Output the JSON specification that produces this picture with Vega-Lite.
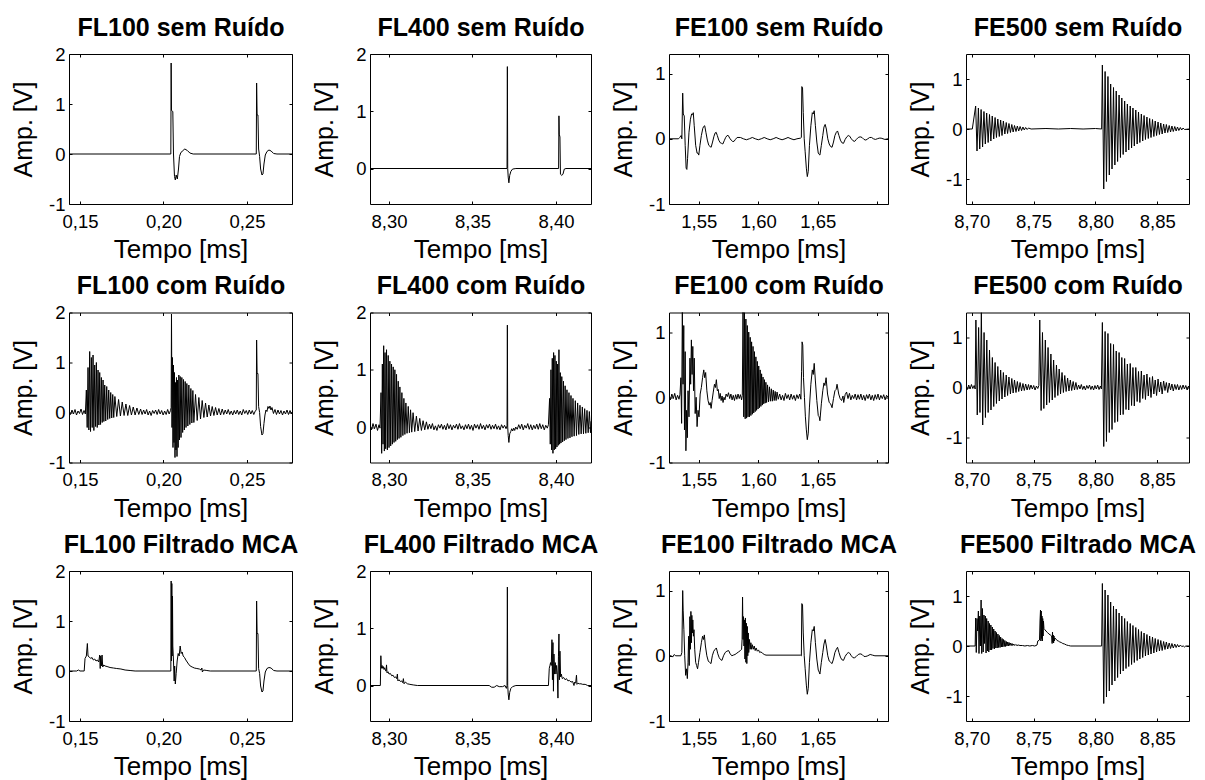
{
"$schema":"https://vega.github.io/schema/vega-lite/v6.json",
"background":"white",
"padding":{"left":10,"top":14,"right":0,"bottom":0},
"config":{
"font":"Liberation Sans",
"view":{"stroke":"black","strokeWidth":1},
"axis":{"grid":false,"domain":false,"ticks":true,"tickColor":"black","tickSize":-3,"tickWidth":1,"labelFont":"Liberation Sans","labelFontSize":18.5,"labelColor":"black","labelPadding":11,"titleFont":"Liberation Sans","titleFontWeight":"normal","titleColor":"black"},
"axisX":{"titlePadding":6,"titleFontSize":26},
"axisY":{"titleX":-46,"titleBaseline":"middle","labelPadding":7,"titleFontSize":25},
"line":{"color":"black","strokeWidth":1}
},
"datasets":{
"p1":[{"t":0.1434,"v":0},{"t":0.2044,"v":0},{"t":0.2046,"v":1.82},{"t":0.2048,"v":0.87},{"t":0.2056,"v":0.85},{"t":0.206,"v":0},{"t":0.2066,"v":-0.45},{"t":0.2071,"v":-0.52},{"t":0.2076,"v":-0.42},{"t":0.2083,"v":-0.5},{"t":0.209,"v":-0.3},{"t":0.2096,"v":-0.05},{"t":0.2103,"v":0.02},{"t":0.2113,"v":0.06},{"t":0.2128,"v":0.1},{"t":0.2143,"v":0.07},{"t":0.2158,"v":0.02},{"t":0.2178,"v":0},{"t":0.2556,"v":0},{"t":0.2558,"v":1.42},{"t":0.2561,"v":0.78},{"t":0.2566,"v":0.78},{"t":0.257,"v":0.1},{"t":0.2576,"v":-0.05},{"t":0.2582,"v":-0.3},{"t":0.259,"v":-0.42},{"t":0.2596,"v":-0.4},{"t":0.2602,"v":-0.2},{"t":0.261,"v":-0.02},{"t":0.262,"v":0.05},{"t":0.2632,"v":0.08},{"t":0.2645,"v":0.06},{"t":0.266,"v":0.01},{"t":0.268,"v":0},{"t":0.277,"v":0}],
"p2":[{"t":8.2886,"v":0},{"t":8.3707,"v":0},{"t":8.3709,"v":1.78},{"t":8.3711,"v":0},{"t":8.3714,"v":-0.15},{"t":8.3718,"v":-0.25},{"t":8.3723,"v":-0.12},{"t":8.373,"v":-0.05},{"t":8.374,"v":-0.01},{"t":8.376,"v":0},{"t":8.4016,"v":0},{"t":8.4018,"v":0.92},{"t":8.402,"v":0.6},{"t":8.4024,"v":0.55},{"t":8.4027,"v":-0.1},{"t":8.4035,"v":-0.12},{"t":8.4042,"v":-0.1},{"t":8.405,"v":-0.01},{"t":8.406,"v":0},{"t":8.421,"v":0}],
"p3":[{"t":1.525,"v":0},{"t":1.533,"v":0},{"t":1.534,"v":0.02},{"t":1.5352,"v":0.05},{"t":1.5358,"v":0},{"t":1.5365,"v":0.7},{"t":1.537,"v":0.38},{"t":1.5378,"v":0.35},{"t":1.5386,"v":-0.1},{"t":1.5394,"v":-0.45},{"t":1.54,"v":-0.47},{"t":1.5406,"v":-0.3},{"t":1.5418,"v":0.1},{"t":1.543,"v":0.3},{"t":1.544,"v":0.38},{"t":1.5448,"v":0.37},{"t":1.5454,"v":0.4},{"t":1.5462,"v":0.2},{"t":1.5474,"v":-0.1},{"t":1.5486,"v":-0.22},{"t":1.5494,"v":-0.22},{"t":1.55,"v":-0.25},{"t":1.551,"v":-0.1},{"t":1.5522,"v":0.05},{"t":1.5534,"v":0.16},{"t":1.5542,"v":0.19},{"t":1.555,"v":0.2},{"t":1.556,"v":0.1},{"t":1.5572,"v":-0.02},{"t":1.5584,"v":-0.1},{"t":1.5596,"v":-0.12},{"t":1.5604,"v":-0.13},{"t":1.5616,"v":-0.05},{"t":1.5628,"v":0.04},{"t":1.5638,"v":0.09},{"t":1.5646,"v":0.1},{"t":1.5656,"v":0.05},{"t":1.5668,"v":-0.02},{"t":1.568,"v":-0.06},{"t":1.5692,"v":-0.07},{"t":1.5702,"v":-0.08},{"t":1.5714,"v":-0.03},{"t":1.5726,"v":0.02},{"t":1.5738,"v":0.05},{"t":1.5748,"v":0.05},{"t":1.576,"v":0.01},{"t":1.5772,"v":-0.02},{"t":1.5784,"v":-0.04},{"t":1.5796,"v":-0.04},{"t":1.5808,"v":-0.01},{"t":1.5822,"v":0.02},{"t":1.585,"v":0.02},{"t":1.5875,"v":0},{"t":1.59,"v":-0.015},{"t":1.5925,"v":0},{"t":1.595,"v":0.02},{"t":1.5975,"v":0},{"t":1.6,"v":-0.015},{"t":1.6025,"v":0},{"t":1.605,"v":0.02},{"t":1.6075,"v":0},{"t":1.61,"v":-0.015},{"t":1.6125,"v":0},{"t":1.615,"v":0.02},{"t":1.6175,"v":0},{"t":1.62,"v":-0.015},{"t":1.6225,"v":0},{"t":1.625,"v":0.02},{"t":1.6275,"v":0},{"t":1.63,"v":-0.015},{"t":1.6325,"v":0},{"t":1.6355,"v":0.01},{"t":1.6362,"v":0.02},{"t":1.6366,"v":0.8},{"t":1.6372,"v":0.78},{"t":1.6378,"v":0.4},{"t":1.6386,"v":0},{"t":1.6394,"v":-0.2},{"t":1.6404,"v":-0.45},{"t":1.6412,"v":-0.58},{"t":1.642,"v":-0.5},{"t":1.643,"v":-0.1},{"t":1.6442,"v":0.2},{"t":1.6454,"v":0.4},{"t":1.6462,"v":0.38},{"t":1.647,"v":0.43},{"t":1.648,"v":0.2},{"t":1.6492,"v":-0.05},{"t":1.6504,"v":-0.22},{"t":1.6512,"v":-0.24},{"t":1.6518,"v":-0.25},{"t":1.653,"v":-0.1},{"t":1.6542,"v":0.05},{"t":1.6552,"v":0.18},{"t":1.6562,"v":0.22},{"t":1.6572,"v":0.15},{"t":1.6584,"v":0},{"t":1.6596,"v":-0.08},{"t":1.6608,"v":-0.12},{"t":1.662,"v":-0.13},{"t":1.6632,"v":-0.05},{"t":1.6644,"v":0.05},{"t":1.6656,"v":0.1},{"t":1.6666,"v":0.12},{"t":1.6678,"v":0.05},{"t":1.669,"v":-0.02},{"t":1.6702,"v":-0.06},{"t":1.6716,"v":-0.07},{"t":1.673,"v":-0.01},{"t":1.6744,"v":0.03},{"t":1.6756,"v":0.05},{"t":1.6768,"v":0.04},{"t":1.6782,"v":0},{"t":1.6796,"v":-0.03},{"t":1.681,"v":-0.04},{"t":1.6824,"v":-0.01},{"t":1.684,"v":0.02},{"t":1.6856,"v":0.03},{"t":1.6872,"v":0.02},{"t":1.6888,"v":-0.01},{"t":1.6904,"v":-0.02},{"t":1.692,"v":0},{"t":1.6936,"v":0.02},{"t":1.6952,"v":0.02},{"t":1.6968,"v":0},{"t":1.6984,"v":-0.01},{"t":1.7,"v":0},{"t":1.7016,"v":0.01},{"t":1.7032,"v":0.01},{"t":1.7048,"v":0},{"t":1.7064,"v":-0.01},{"t":1.709,"v":0}],
"p4":[{"t":8.6954,"v":0},{"t":8.7005,"v":0},{"t":8.7032,"v":0.46},{"t":8.7043,"v":-0.44},{"t":8.7054,"v":0.42},{"t":8.7065,"v":-0.4},{"t":8.7076,"v":0.39},{"t":8.7088,"v":-0.36},{"t":8.7099,"v":0.35},{"t":8.711,"v":-0.3},{"t":8.7121,"v":0.32},{"t":8.7133,"v":-0.27},{"t":8.7144,"v":0.29},{"t":8.7155,"v":-0.24},{"t":8.7166,"v":0.26},{"t":8.7178,"v":-0.2},{"t":8.7189,"v":0.23},{"t":8.72,"v":-0.17},{"t":8.7211,"v":0.2},{"t":8.7223,"v":-0.15},{"t":8.7234,"v":0.18},{"t":8.7245,"v":-0.13},{"t":8.7256,"v":0.16},{"t":8.7268,"v":-0.1},{"t":8.7279,"v":0.13},{"t":8.729,"v":-0.09},{"t":8.7301,"v":0.11},{"t":8.7313,"v":-0.07},{"t":8.7324,"v":0.09},{"t":8.7335,"v":-0.06},{"t":8.7346,"v":0.07},{"t":8.7358,"v":-0.05},{"t":8.7369,"v":0.06},{"t":8.738,"v":-0.04},{"t":8.7391,"v":0.05},{"t":8.7403,"v":-0.03},{"t":8.7414,"v":0.04},{"t":8.7425,"v":-0.02},{"t":8.7436,"v":0.03},{"t":8.7448,"v":-0.01},{"t":8.7459,"v":0.02},{"t":8.748,"v":0},{"t":8.76,"v":0.01},{"t":8.77,"v":0},{"t":8.78,"v":0.01},{"t":8.79,"v":0},{"t":8.8,"v":0.01},{"t":8.805,"v":0},{"t":8.8056,"v":1.28},{"t":8.8067,"v":-1.2},{"t":8.8078,"v":1.15},{"t":8.8089,"v":-1.05},{"t":8.8101,"v":1.05},{"t":8.8112,"v":-0.92},{"t":8.8123,"v":0.9},{"t":8.8134,"v":-0.8},{"t":8.8146,"v":0.83},{"t":8.8157,"v":-0.72},{"t":8.8168,"v":0.76},{"t":8.8179,"v":-0.65},{"t":8.8191,"v":0.68},{"t":8.8202,"v":-0.57},{"t":8.8213,"v":0.62},{"t":8.8224,"v":-0.51},{"t":8.8236,"v":0.56},{"t":8.8247,"v":-0.46},{"t":8.8258,"v":0.5},{"t":8.8269,"v":-0.42},{"t":8.8281,"v":0.46},{"t":8.8292,"v":-0.38},{"t":8.8303,"v":0.42},{"t":8.8314,"v":-0.34},{"t":8.8326,"v":0.38},{"t":8.8337,"v":-0.3},{"t":8.8348,"v":0.34},{"t":8.8359,"v":-0.27},{"t":8.8371,"v":0.3},{"t":8.8382,"v":-0.24},{"t":8.8393,"v":0.27},{"t":8.8404,"v":-0.21},{"t":8.8416,"v":0.24},{"t":8.8427,"v":-0.19},{"t":8.8438,"v":0.21},{"t":8.8449,"v":-0.17},{"t":8.8461,"v":0.19},{"t":8.8472,"v":-0.15},{"t":8.8483,"v":0.16},{"t":8.8494,"v":-0.13},{"t":8.8506,"v":0.14},{"t":8.8517,"v":-0.11},{"t":8.8528,"v":0.12},{"t":8.8539,"v":-0.1},{"t":8.8551,"v":0.1},{"t":8.8562,"v":-0.08},{"t":8.8573,"v":0.09},{"t":8.8584,"v":-0.07},{"t":8.8596,"v":0.07},{"t":8.8607,"v":-0.06},{"t":8.8618,"v":0.06},{"t":8.8629,"v":-0.05},{"t":8.8641,"v":0.05},{"t":8.8652,"v":-0.04},{"t":8.8663,"v":0.04},{"t":8.8674,"v":-0.03},{"t":8.8686,"v":0.03},{"t":8.8697,"v":-0.02},{"t":8.8708,"v":0.02},{"t":8.872,"v":-0.01},{"t":8.8756,"v":0}],
"p5":[{"t":0.1434,"v":0.02},{"t":0.1443,"v":-0.04},{"t":0.1452,"v":0.05},{"t":0.1461,"v":-0.03},{"t":0.147,"v":0.06},{"t":0.1479,"v":-0.05},{"t":0.1488,"v":0.03},{"t":0.1497,"v":-0.02},{"t":0.1506,"v":0.07},{"t":0.1515,"v":-0.04},{"t":0.1524,"v":0.04},{"t":0.1532,"v":-0.03},{"t":0.1538,"v":0.45},{"t":0.1543,"v":-0.3},{"t":0.1548,"v":0.9},{"t":0.1553,"v":-0.35},{"t":0.1558,"v":1.22},{"t":0.1563,"v":-0.38},{"t":0.1568,"v":1.1},{"t":0.1573,"v":-0.3},{"t":0.1578,"v":1.15},{"t":0.1583,"v":-0.36},{"t":0.1588,"v":0.95},{"t":0.1593,"v":-0.28},{"t":0.1598,"v":1},{"t":0.1603,"v":-0.3},{"t":0.1608,"v":0.85},{"t":0.1613,"v":-0.25},{"t":0.1618,"v":0.8},{"t":0.1623,"v":-0.24},{"t":0.1628,"v":0.7},{"t":0.1633,"v":-0.2},{"t":0.1638,"v":0.65},{"t":0.1643,"v":-0.18},{"t":0.1648,"v":0.55},{"t":0.1654,"v":-0.17},{"t":0.166,"v":0.52},{"t":0.1666,"v":-0.14},{"t":0.1672,"v":0.45},{"t":0.1678,"v":-0.12},{"t":0.1684,"v":0.4},{"t":0.169,"v":-0.11},{"t":0.1696,"v":0.36},{"t":0.1702,"v":-0.1},{"t":0.1709,"v":0.32},{"t":0.172,"v":-0.08},{"t":0.1731,"v":0.26},{"t":0.1742,"v":-0.07},{"t":0.1753,"v":0.21},{"t":0.1764,"v":-0.06},{"t":0.1775,"v":0.17},{"t":0.1786,"v":-0.06},{"t":0.1797,"v":0.14},{"t":0.1808,"v":-0.05},{"t":0.1819,"v":0.11},{"t":0.183,"v":-0.05},{"t":0.1841,"v":0.09},{"t":0.1852,"v":-0.04},{"t":0.1863,"v":0.07},{"t":0.1872,"v":-0.04},{"t":0.1881,"v":0.05},{"t":0.189,"v":-0.03},{"t":0.1899,"v":0.06},{"t":0.1908,"v":-0.05},{"t":0.1917,"v":0.03},{"t":0.1926,"v":-0.06},{"t":0.1935,"v":0.04},{"t":0.1944,"v":-0.02},{"t":0.1953,"v":0.05},{"t":0.1962,"v":-0.04},{"t":0.1971,"v":0.06},{"t":0.198,"v":-0.03},{"t":0.1989,"v":0.04},{"t":0.1998,"v":-0.05},{"t":0.2007,"v":0.03},{"t":0.2016,"v":-0.04},{"t":0.2025,"v":0.06},{"t":0.2034,"v":-0.03},{"t":0.2042,"v":0.04},{"t":0.2046,"v":0.1},{"t":0.2048,"v":1.97},{"t":0.2051,"v":-0.3},{"t":0.2054,"v":1.1},{"t":0.2057,"v":-0.7},{"t":0.206,"v":0.95},{"t":0.2063,"v":-0.6},{"t":0.2066,"v":0.8},{"t":0.2069,"v":-0.9},{"t":0.2072,"v":0.6},{"t":0.2075,"v":-0.75},{"t":0.2078,"v":0.7},{"t":0.2081,"v":-0.88},{"t":0.2084,"v":0.65},{"t":0.2088,"v":-0.7},{"t":0.2092,"v":0.75},{"t":0.2096,"v":-0.55},{"t":0.21,"v":0.72},{"t":0.2105,"v":-0.5},{"t":0.211,"v":0.7},{"t":0.2115,"v":-0.4},{"t":0.212,"v":0.66},{"t":0.2125,"v":-0.35},{"t":0.213,"v":0.62},{"t":0.2135,"v":-0.3},{"t":0.214,"v":0.58},{"t":0.2146,"v":-0.27},{"t":0.2152,"v":0.55},{"t":0.2158,"v":-0.24},{"t":0.2164,"v":0.48},{"t":0.217,"v":-0.21},{"t":0.2176,"v":0.44},{"t":0.2182,"v":-0.2},{"t":0.2192,"v":0.36},{"t":0.2202,"v":-0.16},{"t":0.2212,"v":0.3},{"t":0.2222,"v":-0.13},{"t":0.2232,"v":0.24},{"t":0.2242,"v":-0.1},{"t":0.2252,"v":0.19},{"t":0.2262,"v":-0.09},{"t":0.2272,"v":0.15},{"t":0.2282,"v":-0.07},{"t":0.2292,"v":0.12},{"t":0.2302,"v":-0.06},{"t":0.2312,"v":0.1},{"t":0.2322,"v":-0.05},{"t":0.2332,"v":0.08},{"t":0.2342,"v":-0.05},{"t":0.2352,"v":0.07},{"t":0.2361,"v":-0.04},{"t":0.237,"v":0.05},{"t":0.2379,"v":-0.03},{"t":0.2388,"v":0.06},{"t":0.2397,"v":-0.04},{"t":0.2406,"v":0.03},{"t":0.2415,"v":-0.05},{"t":0.2424,"v":0.04},{"t":0.2433,"v":-0.03},{"t":0.2442,"v":0.05},{"t":0.2451,"v":-0.04},{"t":0.246,"v":0.03},{"t":0.2469,"v":-0.05},{"t":0.2478,"v":0.06},{"t":0.2487,"v":-0.02},{"t":0.2496,"v":0.04},{"t":0.2505,"v":-0.04},{"t":0.2514,"v":0.05},{"t":0.2523,"v":-0.03},{"t":0.2532,"v":0.04},{"t":0.2541,"v":-0.04},{"t":0.255,"v":0.03},{"t":0.2556,"v":0.05},{"t":0.2558,"v":1.45},{"t":0.2561,"v":0.78},{"t":0.2566,"v":0.78},{"t":0.257,"v":0.12},{"t":0.2576,"v":0},{"t":0.2582,"v":-0.28},{"t":0.259,"v":-0.45},{"t":0.2596,"v":-0.42},{"t":0.2602,"v":-0.22},{"t":0.2608,"v":-0.05},{"t":0.2614,"v":0.05},{"t":0.262,"v":0.02},{"t":0.2626,"v":0.12},{"t":0.2632,"v":0.08},{"t":0.2638,"v":0.13},{"t":0.2644,"v":0.05},{"t":0.265,"v":0.1},{"t":0.2659,"v":-0.02},{"t":0.2668,"v":0.06},{"t":0.2677,"v":-0.04},{"t":0.2686,"v":0.05},{"t":0.2695,"v":-0.03},{"t":0.2704,"v":0.04},{"t":0.2713,"v":-0.05},{"t":0.2722,"v":0.03},{"t":0.2731,"v":-0.03},{"t":0.274,"v":0.05},{"t":0.2749,"v":-0.04},{"t":0.2758,"v":0.04},{"t":0.2767,"v":-0.03},{"t":0.277,"v":0.01}],
"p6":[{"t":8.2886,"v":0.03},{"t":8.2895,"v":-0.05},{"t":8.2904,"v":0.06},{"t":8.2913,"v":-0.03},{"t":8.2922,"v":0.05},{"t":8.2931,"v":-0.06},{"t":8.294,"v":0.04},{"t":8.2946,"v":-0.02},{"t":8.2952,"v":0.6},{"t":8.2956,"v":-0.46},{"t":8.296,"v":1.1},{"t":8.2964,"v":-0.3},{"t":8.2968,"v":1.42},{"t":8.2972,"v":-0.42},{"t":8.2976,"v":1.3},{"t":8.298,"v":-0.38},{"t":8.2985,"v":1.35},{"t":8.299,"v":-0.4},{"t":8.2995,"v":1.25},{"t":8.3,"v":-0.36},{"t":8.3005,"v":1.15},{"t":8.301,"v":-0.33},{"t":8.3015,"v":1.1},{"t":8.302,"v":-0.3},{"t":8.3025,"v":1.05},{"t":8.303,"v":-0.27},{"t":8.3035,"v":1},{"t":8.304,"v":-0.25},{"t":8.3045,"v":0.92},{"t":8.305,"v":-0.22},{"t":8.3055,"v":0.8},{"t":8.306,"v":-0.2},{"t":8.3065,"v":0.7},{"t":8.3071,"v":-0.18},{"t":8.3077,"v":0.6},{"t":8.3083,"v":-0.15},{"t":8.3089,"v":0.5},{"t":8.3095,"v":-0.13},{"t":8.3101,"v":0.42},{"t":8.3108,"v":-0.11},{"t":8.3115,"v":0.36},{"t":8.3122,"v":-0.1},{"t":8.3129,"v":0.3},{"t":8.3136,"v":-0.09},{"t":8.3144,"v":0.25},{"t":8.3154,"v":-0.08},{"t":8.3164,"v":0.19},{"t":8.3174,"v":-0.07},{"t":8.3184,"v":0.15},{"t":8.3194,"v":-0.06},{"t":8.3204,"v":0.11},{"t":8.3214,"v":-0.05},{"t":8.3224,"v":0.09},{"t":8.3233,"v":-0.04},{"t":8.3242,"v":0.05},{"t":8.3251,"v":-0.03},{"t":8.326,"v":0.06},{"t":8.3269,"v":-0.05},{"t":8.3278,"v":0.02},{"t":8.3287,"v":-0.06},{"t":8.3296,"v":0.04},{"t":8.3305,"v":-0.02},{"t":8.3314,"v":0.05},{"t":8.3323,"v":-0.04},{"t":8.3332,"v":0.03},{"t":8.3341,"v":-0.05},{"t":8.335,"v":0.06},{"t":8.3359,"v":-0.03},{"t":8.3368,"v":0.04},{"t":8.3377,"v":-0.05},{"t":8.3386,"v":0.03},{"t":8.3395,"v":-0.02},{"t":8.3404,"v":0.05},{"t":8.3413,"v":-0.04},{"t":8.3422,"v":0.06},{"t":8.3431,"v":-0.03},{"t":8.344,"v":0.02},{"t":8.3449,"v":-0.05},{"t":8.3458,"v":0.04},{"t":8.3467,"v":-0.03},{"t":8.3476,"v":0.05},{"t":8.3485,"v":-0.04},{"t":8.3494,"v":0.03},{"t":8.3503,"v":-0.06},{"t":8.3512,"v":0.05},{"t":8.3521,"v":-0.02},{"t":8.353,"v":0.04},{"t":8.3539,"v":-0.04},{"t":8.3548,"v":0.06},{"t":8.3557,"v":-0.03},{"t":8.3566,"v":0.03},{"t":8.3575,"v":-0.05},{"t":8.3584,"v":0.04},{"t":8.3593,"v":-0.02},{"t":8.3602,"v":0.05},{"t":8.3611,"v":-0.04},{"t":8.362,"v":0.03},{"t":8.3629,"v":-0.03},{"t":8.3638,"v":0.05},{"t":8.3647,"v":-0.04},{"t":8.3656,"v":0.02},{"t":8.3665,"v":-0.05},{"t":8.3674,"v":0.04},{"t":8.3683,"v":-0.02},{"t":8.3692,"v":0.03},{"t":8.3701,"v":-0.03},{"t":8.3707,"v":0.02},{"t":8.3709,"v":1.78},{"t":8.3711,"v":0},{"t":8.3714,"v":-0.15},{"t":8.3718,"v":-0.27},{"t":8.3723,"v":-0.12},{"t":8.3729,"v":-0.08},{"t":8.3735,"v":-0.03},{"t":8.3741,"v":-0.07},{"t":8.3747,"v":-0.02},{"t":8.3753,"v":-0.06},{"t":8.3759,"v":0},{"t":8.3768,"v":-0.04},{"t":8.3777,"v":0.04},{"t":8.3786,"v":-0.03},{"t":8.3795,"v":0.05},{"t":8.3804,"v":-0.05},{"t":8.3813,"v":0.03},{"t":8.3822,"v":-0.02},{"t":8.3831,"v":0.06},{"t":8.384,"v":-0.04},{"t":8.3849,"v":0.04},{"t":8.3858,"v":-0.05},{"t":8.3867,"v":0.03},{"t":8.3876,"v":-0.03},{"t":8.3885,"v":0.05},{"t":8.3894,"v":-0.04},{"t":8.3903,"v":0.06},{"t":8.3912,"v":-0.03},{"t":8.3921,"v":0.04},{"t":8.393,"v":-0.05},{"t":8.3939,"v":0.03},{"t":8.3948,"v":-0.02},{"t":8.3955,"v":0.04},{"t":8.3962,"v":0.5},{"t":8.3966,"v":-0.3},{"t":8.397,"v":1},{"t":8.3974,"v":-0.4},{"t":8.3978,"v":1.2},{"t":8.3982,"v":-0.46},{"t":8.3986,"v":1.3},{"t":8.399,"v":-0.4},{"t":8.3994,"v":1.25},{"t":8.3998,"v":-0.38},{"t":8.4002,"v":1.15},{"t":8.4006,"v":-0.35},{"t":8.401,"v":1.1},{"t":8.4014,"v":-0.32},{"t":8.4018,"v":1.35},{"t":8.4022,"v":-0.3},{"t":8.4026,"v":0.95},{"t":8.403,"v":-0.28},{"t":8.4035,"v":0.88},{"t":8.404,"v":-0.26},{"t":8.4045,"v":0.8},{"t":8.405,"v":-0.24},{"t":8.4055,"v":0.72},{"t":8.406,"v":-0.22},{"t":8.4066,"v":0.65},{"t":8.4072,"v":-0.2},{"t":8.4078,"v":0.6},{"t":8.4084,"v":-0.19},{"t":8.409,"v":0.55},{"t":8.4096,"v":-0.17},{"t":8.4102,"v":0.5},{"t":8.4109,"v":-0.16},{"t":8.4116,"v":0.46},{"t":8.4123,"v":-0.15},{"t":8.413,"v":0.42},{"t":8.4137,"v":-0.13},{"t":8.4144,"v":0.38},{"t":8.4151,"v":-0.12},{"t":8.4158,"v":0.35},{"t":8.4165,"v":-0.12},{"t":8.4172,"v":0.32},{"t":8.4179,"v":-0.11},{"t":8.4186,"v":0.29},{"t":8.4193,"v":-0.1},{"t":8.42,"v":0.27},{"t":8.4207,"v":-0.1},{"t":8.421,"v":0.1}],
"p7":[{"t":1.525,"v":0.02},{"t":1.5262,"v":-0.04},{"t":1.5274,"v":0.05},{"t":1.5286,"v":-0.02},{"t":1.5298,"v":0.06},{"t":1.531,"v":-0.04},{"t":1.5322,"v":0.03},{"t":1.5334,"v":-0.03},{"t":1.5342,"v":0.04},{"t":1.535,"v":0.3},{"t":1.5356,"v":-0.4},{"t":1.5362,"v":1.35},{"t":1.5368,"v":0.2},{"t":1.5374,"v":1.1},{"t":1.538,"v":-0.5},{"t":1.5386,"v":0.7},{"t":1.5392,"v":-0.82},{"t":1.5398,"v":-0.2},{"t":1.5404,"v":-0.62},{"t":1.541,"v":0.1},{"t":1.5418,"v":-0.3},{"t":1.5426,"v":0.6},{"t":1.5432,"v":0.2},{"t":1.5438,"v":0.88},{"t":1.5444,"v":0.35},{"t":1.545,"v":0.78},{"t":1.5456,"v":0.1},{"t":1.5462,"v":0.6},{"t":1.547,"v":-0.25},{"t":1.5478,"v":0},{"t":1.5486,"v":-0.45},{"t":1.5494,"v":-0.2},{"t":1.5502,"v":-0.3},{"t":1.5512,"v":0.05},{"t":1.5522,"v":0.15},{"t":1.5532,"v":0.3},{"t":1.5542,"v":0.42},{"t":1.555,"v":0.3},{"t":1.5558,"v":0.38},{"t":1.5568,"v":0.1},{"t":1.5578,"v":-0.05},{"t":1.5588,"v":-0.12},{"t":1.5596,"v":-0.08},{"t":1.5604,"v":-0.17},{"t":1.5612,"v":-0.05},{"t":1.5622,"v":0.08},{"t":1.5632,"v":0.2},{"t":1.564,"v":0.15},{"t":1.5648,"v":0.27},{"t":1.5656,"v":0.1},{"t":1.5664,"v":0.12},{"t":1.5672,"v":-0.02},{"t":1.568,"v":0.06},{"t":1.5688,"v":-0.05},{"t":1.5696,"v":0.02},{"t":1.5704,"v":-0.08},{"t":1.5712,"v":0},{"t":1.572,"v":-0.04},{"t":1.573,"v":0.05},{"t":1.574,"v":0.01},{"t":1.575,"v":0.07},{"t":1.576,"v":-0.02},{"t":1.577,"v":0.05},{"t":1.578,"v":-0.04},{"t":1.579,"v":0.03},{"t":1.58,"v":-0.05},{"t":1.581,"v":0.04},{"t":1.582,"v":-0.03},{"t":1.583,"v":0.05},{"t":1.584,"v":-0.02},{"t":1.585,"v":0.04},{"t":1.586,"v":-0.04},{"t":1.5866,"v":0.03},{"t":1.5872,"v":1.35},{"t":1.5878,"v":-0.3},{"t":1.5884,"v":1.3},{"t":1.589,"v":-0.33},{"t":1.5896,"v":1.2},{"t":1.5902,"v":-0.32},{"t":1.5908,"v":1.1},{"t":1.5914,"v":-0.3},{"t":1.592,"v":1},{"t":1.5926,"v":-0.3},{"t":1.5932,"v":0.92},{"t":1.5938,"v":-0.28},{"t":1.5944,"v":0.85},{"t":1.595,"v":-0.26},{"t":1.5956,"v":0.78},{"t":1.5962,"v":-0.24},{"t":1.5968,"v":0.7},{"t":1.5974,"v":-0.22},{"t":1.598,"v":0.62},{"t":1.5986,"v":-0.2},{"t":1.5992,"v":0.55},{"t":1.5998,"v":-0.18},{"t":1.6004,"v":0.48},{"t":1.601,"v":-0.16},{"t":1.6016,"v":0.42},{"t":1.6022,"v":-0.14},{"t":1.6028,"v":0.36},{"t":1.6034,"v":-0.12},{"t":1.604,"v":0.31},{"t":1.6046,"v":-0.1},{"t":1.6052,"v":0.27},{"t":1.6058,"v":-0.09},{"t":1.6064,"v":0.23},{"t":1.607,"v":-0.08},{"t":1.6078,"v":0.19},{"t":1.6086,"v":-0.07},{"t":1.6094,"v":0.16},{"t":1.6102,"v":-0.06},{"t":1.611,"v":0.13},{"t":1.6118,"v":-0.06},{"t":1.6126,"v":0.11},{"t":1.6134,"v":-0.05},{"t":1.6142,"v":0.09},{"t":1.615,"v":-0.05},{"t":1.6158,"v":0.08},{"t":1.6168,"v":-0.03},{"t":1.618,"v":0.05},{"t":1.6192,"v":-0.04},{"t":1.6204,"v":0.03},{"t":1.6216,"v":-0.05},{"t":1.6228,"v":0.06},{"t":1.624,"v":-0.02},{"t":1.6252,"v":0.04},{"t":1.6264,"v":-0.04},{"t":1.6276,"v":0.05},{"t":1.6288,"v":-0.03},{"t":1.63,"v":0.03},{"t":1.6312,"v":-0.05},{"t":1.6324,"v":0.04},{"t":1.6336,"v":-0.02},{"t":1.6348,"v":0.05},{"t":1.6358,"v":-0.03},{"t":1.6364,"v":0.4},{"t":1.6368,"v":0.85},{"t":1.6374,"v":0.8},{"t":1.638,"v":0.3},{"t":1.6388,"v":0},{"t":1.6396,"v":-0.3},{"t":1.6404,"v":-0.5},{"t":1.6412,"v":-0.65},{"t":1.642,"v":-0.55},{"t":1.643,"v":-0.15},{"t":1.6442,"v":0.2},{"t":1.6454,"v":0.42},{"t":1.6462,"v":0.35},{"t":1.647,"v":0.52},{"t":1.648,"v":0.25},{"t":1.6492,"v":-0.05},{"t":1.6504,"v":-0.28},{"t":1.6512,"v":-0.3},{"t":1.6518,"v":-0.36},{"t":1.653,"v":-0.1},{"t":1.6542,"v":0.1},{"t":1.6552,"v":0.22},{"t":1.656,"v":0.18},{"t":1.657,"v":0.3},{"t":1.6582,"v":0.05},{"t":1.6596,"v":-0.08},{"t":1.6608,"v":-0.1},{"t":1.662,"v":-0.16},{"t":1.6632,"v":-0.02},{"t":1.6644,"v":0.1},{"t":1.6654,"v":0.12},{"t":1.6662,"v":0.2},{"t":1.6676,"v":0.05},{"t":1.6688,"v":-0.02},{"t":1.67,"v":-0.05},{"t":1.6712,"v":0.02},{"t":1.6718,"v":-0.08},{"t":1.673,"v":0.04},{"t":1.6742,"v":0.08},{"t":1.6754,"v":-0.02},{"t":1.6766,"v":0.06},{"t":1.6778,"v":-0.04},{"t":1.679,"v":0.03},{"t":1.6802,"v":-0.02},{"t":1.6814,"v":0.05},{"t":1.6826,"v":-0.04},{"t":1.6838,"v":0.04},{"t":1.685,"v":-0.03},{"t":1.6862,"v":0.05},{"t":1.6874,"v":-0.04},{"t":1.6886,"v":0.03},{"t":1.6898,"v":-0.05},{"t":1.691,"v":0.04},{"t":1.6922,"v":-0.02},{"t":1.6934,"v":0.05},{"t":1.6946,"v":-0.04},{"t":1.6958,"v":0.03},{"t":1.697,"v":-0.05},{"t":1.6982,"v":0.04},{"t":1.6994,"v":-0.03},{"t":1.7006,"v":0.05},{"t":1.7018,"v":-0.04},{"t":1.703,"v":0.03},{"t":1.7042,"v":-0.02},{"t":1.7054,"v":0.04},{"t":1.7066,"v":-0.04},{"t":1.7078,"v":0.03},{"t":1.709,"v":0}],
"p8":[{"t":8.6954,"v":0.02},{"t":8.6965,"v":-0.04},{"t":8.6976,"v":0.05},{"t":8.6987,"v":-0.03},{"t":8.6998,"v":0.06},{"t":8.7009,"v":-0.02},{"t":8.702,"v":0.04},{"t":8.7028,"v":-0.03},{"t":8.7034,"v":1.35},{"t":8.7045,"v":-0.55},{"t":8.7056,"v":1.2},{"t":8.7067,"v":-0.5},{"t":8.7078,"v":1.5},{"t":8.7089,"v":-0.75},{"t":8.71,"v":1.1},{"t":8.7111,"v":-0.6},{"t":8.7122,"v":0.95},{"t":8.7133,"v":-0.5},{"t":8.7144,"v":0.75},{"t":8.7156,"v":-0.45},{"t":8.7167,"v":0.6},{"t":8.7178,"v":-0.38},{"t":8.7189,"v":0.5},{"t":8.72,"v":-0.32},{"t":8.7211,"v":0.42},{"t":8.7223,"v":-0.27},{"t":8.7234,"v":0.35},{"t":8.7245,"v":-0.23},{"t":8.7256,"v":0.3},{"t":8.7268,"v":-0.19},{"t":8.7279,"v":0.25},{"t":8.729,"v":-0.16},{"t":8.7301,"v":0.21},{"t":8.7313,"v":-0.13},{"t":8.7324,"v":0.18},{"t":8.7335,"v":-0.11},{"t":8.7346,"v":0.15},{"t":8.7358,"v":-0.1},{"t":8.7369,"v":0.12},{"t":8.738,"v":-0.08},{"t":8.7391,"v":0.1},{"t":8.7403,"v":-0.07},{"t":8.7414,"v":0.08},{"t":8.7425,"v":-0.06},{"t":8.7436,"v":0.07},{"t":8.7448,"v":-0.05},{"t":8.7459,"v":0.06},{"t":8.7468,"v":-0.04},{"t":8.7479,"v":0.05},{"t":8.749,"v":-0.03},{"t":8.7501,"v":0.04},{"t":8.7512,"v":-0.05},{"t":8.7523,"v":0.03},{"t":8.7534,"v":-0.02},{"t":8.7543,"v":0.04},{"t":8.755,"v":1.35},{"t":8.7561,"v":-0.46},{"t":8.7572,"v":1.1},{"t":8.7583,"v":-0.42},{"t":8.7595,"v":0.95},{"t":8.7606,"v":-0.35},{"t":8.7617,"v":0.8},{"t":8.7628,"v":-0.3},{"t":8.764,"v":0.67},{"t":8.7651,"v":-0.25},{"t":8.7662,"v":0.55},{"t":8.7673,"v":-0.2},{"t":8.7685,"v":0.45},{"t":8.7696,"v":-0.16},{"t":8.7707,"v":0.37},{"t":8.7718,"v":-0.13},{"t":8.773,"v":0.3},{"t":8.7741,"v":-0.1},{"t":8.7752,"v":0.24},{"t":8.7763,"v":-0.08},{"t":8.7775,"v":0.19},{"t":8.7786,"v":-0.07},{"t":8.7797,"v":0.15},{"t":8.7808,"v":-0.06},{"t":8.782,"v":0.12},{"t":8.7831,"v":-0.05},{"t":8.7842,"v":0.1},{"t":8.7853,"v":-0.04},{"t":8.7864,"v":0.05},{"t":8.7875,"v":-0.03},{"t":8.7886,"v":0.06},{"t":8.7897,"v":-0.04},{"t":8.7908,"v":0.03},{"t":8.7919,"v":-0.05},{"t":8.793,"v":0.04},{"t":8.7941,"v":-0.02},{"t":8.7952,"v":0.05},{"t":8.7963,"v":-0.04},{"t":8.7974,"v":0.03},{"t":8.7985,"v":-0.05},{"t":8.7996,"v":0.04},{"t":8.8007,"v":-0.03},{"t":8.8018,"v":0.05},{"t":8.8029,"v":-0.04},{"t":8.804,"v":0.03},{"t":8.8048,"v":-0.03},{"t":8.8056,"v":1.3},{"t":8.8067,"v":-1.18},{"t":8.8078,"v":1.12},{"t":8.8089,"v":-1.08},{"t":8.8101,"v":1.08},{"t":8.8112,"v":-0.9},{"t":8.8123,"v":0.88},{"t":8.8134,"v":-0.84},{"t":8.8146,"v":0.86},{"t":8.8157,"v":-0.7},{"t":8.8168,"v":0.73},{"t":8.8179,"v":-0.68},{"t":8.8191,"v":0.7},{"t":8.8202,"v":-0.55},{"t":8.8213,"v":0.6},{"t":8.8224,"v":-0.54},{"t":8.8236,"v":0.58},{"t":8.8247,"v":-0.44},{"t":8.8258,"v":0.47},{"t":8.8269,"v":-0.45},{"t":8.8281,"v":0.48},{"t":8.8292,"v":-0.36},{"t":8.8303,"v":0.4},{"t":8.8314,"v":-0.37},{"t":8.8326,"v":0.4},{"t":8.8337,"v":-0.28},{"t":8.8348,"v":0.32},{"t":8.8359,"v":-0.3},{"t":8.8371,"v":0.33},{"t":8.8382,"v":-0.22},{"t":8.8393,"v":0.25},{"t":8.8404,"v":-0.24},{"t":8.8416,"v":0.27},{"t":8.8427,"v":-0.17},{"t":8.8438,"v":0.2},{"t":8.8449,"v":-0.2},{"t":8.8461,"v":0.22},{"t":8.8472,"v":-0.13},{"t":8.8483,"v":0.15},{"t":8.8494,"v":-0.16},{"t":8.8506,"v":0.17},{"t":8.8517,"v":-0.09},{"t":8.8528,"v":0.11},{"t":8.8539,"v":-0.13},{"t":8.8551,"v":0.13},{"t":8.8562,"v":-0.06},{"t":8.8573,"v":0.1},{"t":8.8584,"v":-0.1},{"t":8.8596,"v":0.09},{"t":8.8607,"v":-0.05},{"t":8.8618,"v":0.07},{"t":8.8629,"v":-0.07},{"t":8.8641,"v":0.06},{"t":8.8652,"v":-0.04},{"t":8.8663,"v":0.06},{"t":8.8674,"v":-0.05},{"t":8.8686,"v":0.04},{"t":8.8697,"v":-0.04},{"t":8.8708,"v":0.05},{"t":8.8719,"v":-0.03},{"t":8.873,"v":0.04},{"t":8.8741,"v":-0.05},{"t":8.8752,"v":0.03},{"t":8.8756,"v":0}],
"p9":[{"t":0.1434,"v":0},{"t":0.148,"v":0},{"t":0.149,"v":0.02},{"t":0.15,"v":0},{"t":0.1525,"v":0},{"t":0.153,"v":0.25},{"t":0.1538,"v":0.3},{"t":0.1544,"v":0.55},{"t":0.1548,"v":0.3},{"t":0.1556,"v":0.28},{"t":0.1564,"v":0.25},{"t":0.1572,"v":0.27},{"t":0.158,"v":0.22},{"t":0.1588,"v":0.24},{"t":0.1596,"v":0.2},{"t":0.1604,"v":0.22},{"t":0.1612,"v":0.18},{"t":0.1618,"v":0.32},{"t":0.1621,"v":0.05},{"t":0.1624,"v":0.3},{"t":0.1628,"v":0.1},{"t":0.1632,"v":0.32},{"t":0.1636,"v":0.08},{"t":0.1642,"v":0.12},{"t":0.165,"v":0.1},{"t":0.1662,"v":0.09},{"t":0.168,"v":0.07},{"t":0.17,"v":0.06},{"t":0.172,"v":0.05},{"t":0.1745,"v":0.04},{"t":0.177,"v":0.02},{"t":0.18,"v":0.01},{"t":0.183,"v":0},{"t":0.2044,"v":0},{"t":0.2046,"v":1.8},{"t":0.2048,"v":0.2},{"t":0.205,"v":1.75},{"t":0.2052,"v":0.3},{"t":0.2054,"v":1.5},{"t":0.2056,"v":0.5},{"t":0.206,"v":0.2},{"t":0.2064,"v":-0.2},{"t":0.2067,"v":0.1},{"t":0.2071,"v":-0.26},{"t":0.2076,"v":-0.05},{"t":0.2082,"v":0.2},{"t":0.2088,"v":0.35},{"t":0.2094,"v":0.3},{"t":0.21,"v":0.5},{"t":0.2106,"v":0.35},{"t":0.2112,"v":0.38},{"t":0.2118,"v":0.3},{"t":0.2126,"v":0.27},{"t":0.2134,"v":0.22},{"t":0.2142,"v":0.18},{"t":0.215,"v":0.14},{"t":0.216,"v":0.1},{"t":0.2172,"v":0.08},{"t":0.2185,"v":0.06},{"t":0.22,"v":0.05},{"t":0.2215,"v":0.04},{"t":0.2225,"v":0.02},{"t":0.223,"v":0.06},{"t":0.2233,"v":-0.02},{"t":0.224,"v":0.02},{"t":0.226,"v":0.01},{"t":0.228,"v":0},{"t":0.2556,"v":0},{"t":0.2558,"v":1.4},{"t":0.2561,"v":0.75},{"t":0.2566,"v":0.75},{"t":0.257,"v":0.05},{"t":0.2576,"v":-0.05},{"t":0.2582,"v":-0.3},{"t":0.259,"v":-0.42},{"t":0.2596,"v":-0.4},{"t":0.2602,"v":-0.2},{"t":0.261,"v":-0.02},{"t":0.262,"v":0.05},{"t":0.2632,"v":0.07},{"t":0.2645,"v":0.06},{"t":0.266,"v":0.01},{"t":0.268,"v":0},{"t":0.277,"v":0}],
"p10":[{"t":8.2886,"v":0},{"t":8.2948,"v":0},{"t":8.2951,"v":0.52},{"t":8.2954,"v":0.3},{"t":8.2958,"v":0.35},{"t":8.2962,"v":0.3},{"t":8.2966,"v":0.33},{"t":8.297,"v":0.28},{"t":8.2974,"v":0.31},{"t":8.2978,"v":0.27},{"t":8.2982,"v":0.25},{"t":8.2985,"v":0.36},{"t":8.2988,"v":0.22},{"t":8.2994,"v":0.24},{"t":8.3,"v":0.2},{"t":8.3008,"v":0.21},{"t":8.3016,"v":0.17},{"t":8.3024,"v":0.18},{"t":8.3032,"v":0.14},{"t":8.304,"v":0.15},{"t":8.3046,"v":0.12},{"t":8.305,"v":0.2},{"t":8.3053,"v":0.08},{"t":8.306,"v":0.1},{"t":8.3068,"v":0.07},{"t":8.3076,"v":0.08},{"t":8.3082,"v":0.05},{"t":8.3086,"v":0.12},{"t":8.309,"v":0.03},{"t":8.3098,"v":0.06},{"t":8.311,"v":0.03},{"t":8.3125,"v":0.02},{"t":8.3145,"v":0.01},{"t":8.317,"v":0},{"t":8.36,"v":0},{"t":8.3615,"v":-0.03},{"t":8.363,"v":-0.03},{"t":8.3645,"v":0},{"t":8.366,"v":-0.02},{"t":8.368,"v":-0.02},{"t":8.3695,"v":0},{"t":8.3703,"v":-0.05},{"t":8.3707,"v":0},{"t":8.3709,"v":1.72},{"t":8.3711,"v":0},{"t":8.3714,"v":-0.15},{"t":8.3718,"v":-0.25},{"t":8.3723,"v":-0.12},{"t":8.373,"v":-0.05},{"t":8.374,"v":-0.02},{"t":8.376,"v":0},{"t":8.3955,"v":0},{"t":8.396,"v":0.3},{"t":8.3964,"v":0.35},{"t":8.3968,"v":0.4},{"t":8.3972,"v":0.35},{"t":8.3976,"v":0.8},{"t":8.3979,"v":0.1},{"t":8.3982,"v":0.75},{"t":8.3985,"v":-0.1},{"t":8.3988,"v":0.55},{"t":8.3992,"v":0.2},{"t":8.3996,"v":0.4},{"t":8.4,"v":0.2},{"t":8.4004,"v":0.35},{"t":8.4008,"v":0.2},{"t":8.4012,"v":-0.22},{"t":8.4015,"v":0.5},{"t":8.4018,"v":0.9},{"t":8.4021,"v":0.1},{"t":8.4024,"v":0.6},{"t":8.4028,"v":0.15},{"t":8.4032,"v":0.2},{"t":8.4038,"v":0.12},{"t":8.4046,"v":0.14},{"t":8.4055,"v":0.1},{"t":8.4063,"v":0.12},{"t":8.4072,"v":0.08},{"t":8.408,"v":0.09},{"t":8.409,"v":0.06},{"t":8.41,"v":0.07},{"t":8.4108,"v":0},{"t":8.4112,"v":0.06},{"t":8.4118,"v":0.04},{"t":8.4123,"v":0.18},{"t":8.4126,"v":0.02},{"t":8.4132,"v":0.04},{"t":8.414,"v":0.03},{"t":8.415,"v":0.03},{"t":8.416,"v":0.02},{"t":8.4175,"v":0.02},{"t":8.419,"v":0},{"t":8.421,"v":0}],
"p11":[{"t":1.525,"v":0},{"t":1.527,"v":0},{"t":1.528,"v":-0.02},{"t":1.5295,"v":0.02},{"t":1.5305,"v":0},{"t":1.535,"v":0},{"t":1.5358,"v":0.05},{"t":1.5365,"v":1},{"t":1.5369,"v":0.7},{"t":1.5375,"v":0.4},{"t":1.5382,"v":0},{"t":1.539,"v":-0.3},{"t":1.5398,"v":-0.2},{"t":1.5404,"v":-0.35},{"t":1.541,"v":-0.1},{"t":1.5415,"v":0.3},{"t":1.542,"v":-0.15},{"t":1.5425,"v":0.6},{"t":1.543,"v":0.1},{"t":1.5434,"v":0.68},{"t":1.5438,"v":0.2},{"t":1.5442,"v":0.62},{"t":1.5446,"v":0.35},{"t":1.545,"v":0.55},{"t":1.5455,"v":0.3},{"t":1.546,"v":0.4},{"t":1.5466,"v":0.1},{"t":1.5474,"v":-0.1},{"t":1.5482,"v":-0.15},{"t":1.549,"v":-0.2},{"t":1.5498,"v":-0.1},{"t":1.551,"v":0.05},{"t":1.5522,"v":0.2},{"t":1.5532,"v":0.3},{"t":1.554,"v":0.25},{"t":1.5547,"v":0.32},{"t":1.5556,"v":0.15},{"t":1.5568,"v":0},{"t":1.558,"v":-0.08},{"t":1.559,"v":-0.1},{"t":1.5603,"v":-0.12},{"t":1.5614,"v":0},{"t":1.5626,"v":0.07},{"t":1.5638,"v":0.1},{"t":1.5648,"v":0.12},{"t":1.566,"v":0.03},{"t":1.5672,"v":-0.03},{"t":1.5684,"v":-0.06},{"t":1.5695,"v":-0.07},{"t":1.5708,"v":0},{"t":1.5722,"v":0.05},{"t":1.5736,"v":0.07},{"t":1.5751,"v":0.08},{"t":1.5764,"v":0.03},{"t":1.5778,"v":0},{"t":1.579,"v":0.01},{"t":1.5805,"v":0.02},{"t":1.582,"v":0.04},{"t":1.5835,"v":0.06},{"t":1.585,"v":0.08},{"t":1.586,"v":0.1},{"t":1.5864,"v":0.25},{"t":1.5868,"v":0.9},{"t":1.5872,"v":0.25},{"t":1.5876,"v":0.6},{"t":1.588,"v":0.15},{"t":1.5884,"v":0.55},{"t":1.5888,"v":-0.05},{"t":1.5892,"v":0.58},{"t":1.5896,"v":-0.1},{"t":1.59,"v":0.5},{"t":1.5904,"v":-0.12},{"t":1.5908,"v":0.45},{"t":1.5912,"v":0},{"t":1.5916,"v":0.35},{"t":1.592,"v":0.05},{"t":1.5926,"v":0.25},{"t":1.5932,"v":0.1},{"t":1.5938,"v":0.2},{"t":1.5944,"v":0.1},{"t":1.595,"v":0.17},{"t":1.5958,"v":0.1},{"t":1.5966,"v":0.15},{"t":1.5974,"v":0.08},{"t":1.5982,"v":0.12},{"t":1.5992,"v":0.07},{"t":1.6002,"v":0.09},{"t":1.6012,"v":0.05},{"t":1.6022,"v":0.06},{"t":1.6035,"v":0.04},{"t":1.605,"v":0.02},{"t":1.6065,"v":0.01},{"t":1.6355,"v":0.01},{"t":1.6362,"v":0},{"t":1.6366,"v":0.8},{"t":1.6372,"v":0.78},{"t":1.6378,"v":0.35},{"t":1.6386,"v":0},{"t":1.6394,"v":-0.2},{"t":1.6404,"v":-0.45},{"t":1.6412,"v":-0.59},{"t":1.642,"v":-0.5},{"t":1.643,"v":-0.1},{"t":1.6442,"v":0.2},{"t":1.6454,"v":0.4},{"t":1.6462,"v":0.38},{"t":1.647,"v":0.45},{"t":1.648,"v":0.2},{"t":1.6492,"v":-0.05},{"t":1.6504,"v":-0.22},{"t":1.6512,"v":-0.25},{"t":1.6518,"v":-0.28},{"t":1.653,"v":-0.1},{"t":1.6542,"v":0.05},{"t":1.6552,"v":0.18},{"t":1.6562,"v":0.25},{"t":1.6572,"v":0.15},{"t":1.6584,"v":0},{"t":1.6596,"v":-0.08},{"t":1.6608,"v":-0.1},{"t":1.662,"v":-0.12},{"t":1.6632,"v":-0.05},{"t":1.6644,"v":0.05},{"t":1.6656,"v":0.1},{"t":1.6666,"v":0.13},{"t":1.6678,"v":0.05},{"t":1.669,"v":-0.02},{"t":1.6702,"v":-0.06},{"t":1.6716,"v":-0.07},{"t":1.673,"v":-0.01},{"t":1.6744,"v":0.03},{"t":1.6756,"v":0.05},{"t":1.6768,"v":0.04},{"t":1.6782,"v":0},{"t":1.6796,"v":-0.03},{"t":1.681,"v":-0.03},{"t":1.6824,"v":-0.01},{"t":1.684,"v":0.02},{"t":1.6856,"v":0.03},{"t":1.6872,"v":0.02},{"t":1.6888,"v":-0.01},{"t":1.6904,"v":-0.01},{"t":1.692,"v":0},{"t":1.694,"v":0.02},{"t":1.696,"v":0.01},{"t":1.698,"v":0},{"t":1.709,"v":0}],
"p12":[{"t":8.6954,"v":0},{"t":8.7028,"v":0},{"t":8.7032,"v":0.56},{"t":8.7037,"v":-0.13},{"t":8.7043,"v":0.55},{"t":8.7048,"v":0.3},{"t":8.7054,"v":0.7},{"t":8.7059,"v":-0.15},{"t":8.7065,"v":0.6},{"t":8.707,"v":0},{"t":8.7076,"v":0.92},{"t":8.7081,"v":-0.15},{"t":8.7087,"v":0.75},{"t":8.7093,"v":-0.12},{"t":8.7099,"v":0.62},{"t":8.7104,"v":0.05},{"t":8.711,"v":0.6},{"t":8.7116,"v":-0.14},{"t":8.7121,"v":0.55},{"t":8.7127,"v":-0.1},{"t":8.7133,"v":0.5},{"t":8.7138,"v":-0.12},{"t":8.7144,"v":0.45},{"t":8.715,"v":-0.08},{"t":8.7155,"v":0.42},{"t":8.7161,"v":-0.08},{"t":8.7167,"v":0.38},{"t":8.7172,"v":-0.05},{"t":8.7178,"v":0.34},{"t":8.7184,"v":-0.06},{"t":8.7189,"v":0.3},{"t":8.7195,"v":-0.04},{"t":8.72,"v":0.27},{"t":8.7206,"v":-0.04},{"t":8.7212,"v":0.24},{"t":8.7217,"v":-0.03},{"t":8.7223,"v":0.21},{"t":8.7229,"v":-0.03},{"t":8.7234,"v":0.18},{"t":8.724,"v":-0.02},{"t":8.7246,"v":0.15},{"t":8.7251,"v":-0.02},{"t":8.7257,"v":0.13},{"t":8.7263,"v":-0.01},{"t":8.7268,"v":0.11},{"t":8.7274,"v":-0.01},{"t":8.728,"v":0.09},{"t":8.7285,"v":0},{"t":8.7291,"v":0.08},{"t":8.7297,"v":0},{"t":8.7302,"v":0.07},{"t":8.7308,"v":0.01},{"t":8.7314,"v":0.06},{"t":8.732,"v":0.01},{"t":8.7326,"v":0.05},{"t":8.7332,"v":0.01},{"t":8.734,"v":0.04},{"t":8.7348,"v":0.01},{"t":8.7356,"v":0.03},{"t":8.7366,"v":0.01},{"t":8.7376,"v":0.02},{"t":8.739,"v":0.01},{"t":8.741,"v":0.01},{"t":8.743,"v":0},{"t":8.745,"v":0.01},{"t":8.747,"v":0},{"t":8.749,"v":0.01},{"t":8.751,"v":0},{"t":8.7528,"v":0.02},{"t":8.7534,"v":0.1},{"t":8.7548,"v":0.12},{"t":8.7552,"v":0.5},{"t":8.7556,"v":0.72},{"t":8.7559,"v":0.1},{"t":8.7562,"v":0.7},{"t":8.7565,"v":0.15},{"t":8.7568,"v":0.6},{"t":8.7571,"v":0.1},{"t":8.7574,"v":0.55},{"t":8.7577,"v":0.2},{"t":8.758,"v":0.5},{"t":8.7584,"v":0.35},{"t":8.759,"v":0.33},{"t":8.76,"v":0.3},{"t":8.7612,"v":0.27},{"t":8.7624,"v":0.24},{"t":8.7636,"v":0.22},{"t":8.7646,"v":0.2},{"t":8.765,"v":0.05},{"t":8.7653,"v":0.28},{"t":8.7656,"v":0.08},{"t":8.7659,"v":0.22},{"t":8.7662,"v":0.06},{"t":8.7665,"v":0.2},{"t":8.7668,"v":0.1},{"t":8.7672,"v":0.16},{"t":8.768,"v":0.14},{"t":8.769,"v":0.11},{"t":8.77,"v":0.1},{"t":8.7712,"v":0.08},{"t":8.7724,"v":0.07},{"t":8.7736,"v":0.05},{"t":8.775,"v":0.04},{"t":8.7766,"v":0.02},{"t":8.7782,"v":0.01},{"t":8.78,"v":0},{"t":8.805,"v":0},{"t":8.8056,"v":1.25},{"t":8.8067,"v":-1.15},{"t":8.8078,"v":1.12},{"t":8.8089,"v":-1.02},{"t":8.8101,"v":1.02},{"t":8.8112,"v":-0.9},{"t":8.8123,"v":0.88},{"t":8.8134,"v":-0.78},{"t":8.8146,"v":0.8},{"t":8.8157,"v":-0.7},{"t":8.8168,"v":0.74},{"t":8.8179,"v":-0.63},{"t":8.8191,"v":0.66},{"t":8.8202,"v":-0.56},{"t":8.8213,"v":0.6},{"t":8.8224,"v":-0.5},{"t":8.8236,"v":0.55},{"t":8.8247,"v":-0.45},{"t":8.8258,"v":0.49},{"t":8.8269,"v":-0.41},{"t":8.8281,"v":0.45},{"t":8.8292,"v":-0.37},{"t":8.8303,"v":0.41},{"t":8.8314,"v":-0.33},{"t":8.8326,"v":0.37},{"t":8.8337,"v":-0.29},{"t":8.8348,"v":0.33},{"t":8.8359,"v":-0.26},{"t":8.8371,"v":0.29},{"t":8.8382,"v":-0.23},{"t":8.8393,"v":0.26},{"t":8.8404,"v":-0.2},{"t":8.8416,"v":0.23},{"t":8.8427,"v":-0.18},{"t":8.8438,"v":0.2},{"t":8.8449,"v":-0.16},{"t":8.8461,"v":0.18},{"t":8.8472,"v":-0.14},{"t":8.8483,"v":0.15},{"t":8.8494,"v":-0.12},{"t":8.8506,"v":0.13},{"t":8.8517,"v":-0.1},{"t":8.8528,"v":0.11},{"t":8.8539,"v":-0.09},{"t":8.8551,"v":0.09},{"t":8.8562,"v":-0.07},{"t":8.8573,"v":0.08},{"t":8.8584,"v":-0.06},{"t":8.8596,"v":0.06},{"t":8.8607,"v":-0.05},{"t":8.8618,"v":0.05},{"t":8.8629,"v":-0.04},{"t":8.8641,"v":0.04},{"t":8.8652,"v":-0.03},{"t":8.8663,"v":0.03},{"t":8.8674,"v":-0.02},{"t":8.8686,"v":0.02},{"t":8.8697,"v":-0.01},{"t":8.871,"v":0},{"t":8.872,"v":-0.02},{"t":8.873,"v":0},{"t":8.8756,"v":0}]
},
"columns":4,
"bounds":"flush",
"spacing":{"row":108.5,"column":78},
"concat":[
{"width":223,"height":150,"data":{"name":"p1"},"layer":[
 {"mark":{"type":"line","clip":true},"encoding":{"x":{"field":"t","type":"quantitative","scale":{"domain":[0.1434,0.277],"nice":false,"zero":false},"axis":{"values":[0.15,0.2,0.25],"labelExpr":"replace(format(datum.value,'.2f'),'.',',')","title":"Tempo [ms]"}},"y":{"field":"v","type":"quantitative","scale":{"domain":[-1,2],"nice":false,"zero":false},"axis":{"values":[-1,0,1,2],"labelExpr":"''+datum.value","title":"Amp. [V]"}}}},
 {"mark":{"type":"line","strokeOpacity":0},"encoding":{"x":{"field":"t","type":"quantitative","axis":{"orient":"top","values":[0.15,0.2,0.25],"labels":false,"title":"FL100 sem Ruído","titleFontSize":25,"titleFontWeight":"bold","titleBaseline":"alphabetic","titlePadding":18.5}},"y":{"field":"v","type":"quantitative","axis":{"orient":"right","values":[-1,0,1,2],"labels":false,"title":null}}}}],
 "resolve":{"axis":{"x":"independent","y":"independent"}}},
{"width":221,"height":150,"data":{"name":"p2"},"layer":[
 {"mark":{"type":"line","clip":true},"encoding":{"x":{"field":"t","type":"quantitative","scale":{"domain":[8.2886,8.421],"nice":false,"zero":false},"axis":{"values":[8.3,8.35,8.4],"labelExpr":"replace(format(datum.value,'.2f'),'.',',')","title":"Tempo [ms]"}},"y":{"field":"v","type":"quantitative","scale":{"domain":[-0.62,2],"nice":false,"zero":false},"axis":{"values":[0,1,2],"labelExpr":"''+datum.value","title":"Amp. [V]"}}}},
 {"mark":{"type":"line","strokeOpacity":0},"encoding":{"x":{"field":"t","type":"quantitative","axis":{"orient":"top","values":[8.3,8.35,8.4],"labels":false,"title":"FL400 sem Ruído","titleFontSize":25,"titleFontWeight":"bold","titleBaseline":"alphabetic","titlePadding":18.5}},"y":{"field":"v","type":"quantitative","axis":{"orient":"right","values":[0,1,2],"labels":false,"title":null}}}}],
 "resolve":{"axis":{"x":"independent","y":"independent"}}},
{"width":219,"height":150,"data":{"name":"p3"},"layer":[
 {"mark":{"type":"line","clip":true},"encoding":{"x":{"field":"t","type":"quantitative","scale":{"domain":[1.525,1.709],"nice":false,"zero":false},"axis":{"values":[1.55,1.6,1.65,1.7],"labelExpr":"datum.value > 1.68 ? '' : replace(format(datum.value,'.2f'),'.',',')","title":"Tempo [ms]"}},"y":{"field":"v","type":"quantitative","scale":{"domain":[-1,1.3],"nice":false,"zero":false},"axis":{"values":[-1,0,1],"labelExpr":"''+datum.value","title":"Amp. [V]"}}}},
 {"mark":{"type":"line","strokeOpacity":0},"encoding":{"x":{"field":"t","type":"quantitative","axis":{"orient":"top","values":[1.55,1.6,1.65,1.7],"labels":false,"title":"FE100 sem Ruído","titleFontSize":25,"titleFontWeight":"bold","titleBaseline":"alphabetic","titlePadding":18.5}},"y":{"field":"v","type":"quantitative","axis":{"orient":"right","values":[-1,0,1],"labels":false,"title":null}}}}],
 "resolve":{"axis":{"x":"independent","y":"independent"}}},
{"width":223,"height":150,"data":{"name":"p4"},"layer":[
 {"mark":{"type":"line","clip":true},"encoding":{"x":{"field":"t","type":"quantitative","scale":{"domain":[8.6954,8.8756],"nice":false,"zero":false},"axis":{"values":[8.7,8.75,8.8,8.85],"labelExpr":"replace(format(datum.value,'.2f'),'.',',')","title":"Tempo [ms]"}},"y":{"field":"v","type":"quantitative","scale":{"domain":[-1.5,1.5],"nice":false,"zero":false},"axis":{"values":[-1,0,1],"labelExpr":"''+datum.value","title":"Amp. [V]"}}}},
 {"mark":{"type":"line","strokeOpacity":0},"encoding":{"x":{"field":"t","type":"quantitative","axis":{"orient":"top","values":[8.7,8.75,8.8,8.85],"labels":false,"title":"FE500 sem Ruído","titleFontSize":25,"titleFontWeight":"bold","titleBaseline":"alphabetic","titlePadding":18.5}},"y":{"field":"v","type":"quantitative","axis":{"orient":"right","values":[-1,0,1],"labels":false,"title":null}}}}],
 "resolve":{"axis":{"x":"independent","y":"independent"}}},
{"width":223,"height":150,"data":{"name":"p5"},"layer":[
 {"mark":{"type":"line","clip":true},"encoding":{"x":{"field":"t","type":"quantitative","scale":{"domain":[0.1434,0.277],"nice":false,"zero":false},"axis":{"values":[0.15,0.2,0.25],"labelExpr":"replace(format(datum.value,'.2f'),'.',',')","title":"Tempo [ms]"}},"y":{"field":"v","type":"quantitative","scale":{"domain":[-1,2],"nice":false,"zero":false},"axis":{"values":[-1,0,1,2],"labelExpr":"''+datum.value","title":"Amp. [V]"}}}},
 {"mark":{"type":"line","strokeOpacity":0},"encoding":{"x":{"field":"t","type":"quantitative","axis":{"orient":"top","values":[0.15,0.2,0.25],"labels":false,"title":"FL100 com Ruído","titleFontSize":25,"titleFontWeight":"bold","titleBaseline":"alphabetic","titlePadding":18.5}},"y":{"field":"v","type":"quantitative","axis":{"orient":"right","values":[-1,0,1,2],"labels":false,"title":null}}}}],
 "resolve":{"axis":{"x":"independent","y":"independent"}}},
{"width":221,"height":150,"data":{"name":"p6"},"layer":[
 {"mark":{"type":"line","clip":true},"encoding":{"x":{"field":"t","type":"quantitative","scale":{"domain":[8.2886,8.421],"nice":false,"zero":false},"axis":{"values":[8.3,8.35,8.4],"labelExpr":"replace(format(datum.value,'.2f'),'.',',')","title":"Tempo [ms]"}},"y":{"field":"v","type":"quantitative","scale":{"domain":[-0.62,2],"nice":false,"zero":false},"axis":{"values":[0,1,2],"labelExpr":"''+datum.value","title":"Amp. [V]"}}}},
 {"mark":{"type":"line","strokeOpacity":0},"encoding":{"x":{"field":"t","type":"quantitative","axis":{"orient":"top","values":[8.3,8.35,8.4],"labels":false,"title":"FL400 com Ruído","titleFontSize":25,"titleFontWeight":"bold","titleBaseline":"alphabetic","titlePadding":18.5}},"y":{"field":"v","type":"quantitative","axis":{"orient":"right","values":[0,1,2],"labels":false,"title":null}}}}],
 "resolve":{"axis":{"x":"independent","y":"independent"}}},
{"width":219,"height":150,"data":{"name":"p7"},"layer":[
 {"mark":{"type":"line","clip":true},"encoding":{"x":{"field":"t","type":"quantitative","scale":{"domain":[1.525,1.709],"nice":false,"zero":false},"axis":{"values":[1.55,1.6,1.65,1.7],"labelExpr":"datum.value > 1.68 ? '' : replace(format(datum.value,'.2f'),'.',',')","title":"Tempo [ms]"}},"y":{"field":"v","type":"quantitative","scale":{"domain":[-1,1.3],"nice":false,"zero":false},"axis":{"values":[-1,0,1],"labelExpr":"''+datum.value","title":"Amp. [V]"}}}},
 {"mark":{"type":"line","strokeOpacity":0},"encoding":{"x":{"field":"t","type":"quantitative","axis":{"orient":"top","values":[1.55,1.6,1.65,1.7],"labels":false,"title":"FE100 com Ruído","titleFontSize":25,"titleFontWeight":"bold","titleBaseline":"alphabetic","titlePadding":18.5}},"y":{"field":"v","type":"quantitative","axis":{"orient":"right","values":[-1,0,1],"labels":false,"title":null}}}}],
 "resolve":{"axis":{"x":"independent","y":"independent"}}},
{"width":223,"height":150,"data":{"name":"p8"},"layer":[
 {"mark":{"type":"line","clip":true},"encoding":{"x":{"field":"t","type":"quantitative","scale":{"domain":[8.6954,8.8756],"nice":false,"zero":false},"axis":{"values":[8.7,8.75,8.8,8.85],"labelExpr":"replace(format(datum.value,'.2f'),'.',',')","title":"Tempo [ms]"}},"y":{"field":"v","type":"quantitative","scale":{"domain":[-1.5,1.5],"nice":false,"zero":false},"axis":{"values":[-1,0,1],"labelExpr":"''+datum.value","title":"Amp. [V]"}}}},
 {"mark":{"type":"line","strokeOpacity":0},"encoding":{"x":{"field":"t","type":"quantitative","axis":{"orient":"top","values":[8.7,8.75,8.8,8.85],"labels":false,"title":"FE500 com Ruído","titleFontSize":25,"titleFontWeight":"bold","titleBaseline":"alphabetic","titlePadding":18.5}},"y":{"field":"v","type":"quantitative","axis":{"orient":"right","values":[-1,0,1],"labels":false,"title":null}}}}],
 "resolve":{"axis":{"x":"independent","y":"independent"}}},
{"width":223,"height":150,"data":{"name":"p9"},"layer":[
 {"mark":{"type":"line","clip":true},"encoding":{"x":{"field":"t","type":"quantitative","scale":{"domain":[0.1434,0.277],"nice":false,"zero":false},"axis":{"values":[0.15,0.2,0.25],"labelExpr":"replace(format(datum.value,'.2f'),'.',',')","title":"Tempo [ms]"}},"y":{"field":"v","type":"quantitative","scale":{"domain":[-1,2],"nice":false,"zero":false},"axis":{"values":[-1,0,1,2],"labelExpr":"''+datum.value","title":"Amp. [V]"}}}},
 {"mark":{"type":"line","strokeOpacity":0},"encoding":{"x":{"field":"t","type":"quantitative","axis":{"orient":"top","values":[0.15,0.2,0.25],"labels":false,"title":"FL100 Filtrado MCA","titleFontSize":25,"titleFontWeight":"bold","titleBaseline":"alphabetic","titlePadding":18.5}},"y":{"field":"v","type":"quantitative","axis":{"orient":"right","values":[-1,0,1,2],"labels":false,"title":null}}}}],
 "resolve":{"axis":{"x":"independent","y":"independent"}}},
{"width":221,"height":150,"data":{"name":"p10"},"layer":[
 {"mark":{"type":"line","clip":true},"encoding":{"x":{"field":"t","type":"quantitative","scale":{"domain":[8.2886,8.421],"nice":false,"zero":false},"axis":{"values":[8.3,8.35,8.4],"labelExpr":"replace(format(datum.value,'.2f'),'.',',')","title":"Tempo [ms]"}},"y":{"field":"v","type":"quantitative","scale":{"domain":[-0.62,2],"nice":false,"zero":false},"axis":{"values":[0,1,2],"labelExpr":"''+datum.value","title":"Amp. [V]"}}}},
 {"mark":{"type":"line","strokeOpacity":0},"encoding":{"x":{"field":"t","type":"quantitative","axis":{"orient":"top","values":[8.3,8.35,8.4],"labels":false,"title":"FL400 Filtrado MCA","titleFontSize":25,"titleFontWeight":"bold","titleBaseline":"alphabetic","titlePadding":18.5}},"y":{"field":"v","type":"quantitative","axis":{"orient":"right","values":[0,1,2],"labels":false,"title":null}}}}],
 "resolve":{"axis":{"x":"independent","y":"independent"}}},
{"width":219,"height":150,"data":{"name":"p11"},"layer":[
 {"mark":{"type":"line","clip":true},"encoding":{"x":{"field":"t","type":"quantitative","scale":{"domain":[1.525,1.709],"nice":false,"zero":false},"axis":{"values":[1.55,1.6,1.65,1.7],"labelExpr":"datum.value > 1.68 ? '' : replace(format(datum.value,'.2f'),'.',',')","title":"Tempo [ms]"}},"y":{"field":"v","type":"quantitative","scale":{"domain":[-1,1.3],"nice":false,"zero":false},"axis":{"values":[-1,0,1],"labelExpr":"''+datum.value","title":"Amp. [V]"}}}},
 {"mark":{"type":"line","strokeOpacity":0},"encoding":{"x":{"field":"t","type":"quantitative","axis":{"orient":"top","values":[1.55,1.6,1.65,1.7],"labels":false,"title":"FE100 Filtrado MCA","titleFontSize":25,"titleFontWeight":"bold","titleBaseline":"alphabetic","titlePadding":18.5}},"y":{"field":"v","type":"quantitative","axis":{"orient":"right","values":[-1,0,1],"labels":false,"title":null}}}}],
 "resolve":{"axis":{"x":"independent","y":"independent"}}},
{"width":223,"height":150,"data":{"name":"p12"},"layer":[
 {"mark":{"type":"line","clip":true},"encoding":{"x":{"field":"t","type":"quantitative","scale":{"domain":[8.6954,8.8756],"nice":false,"zero":false},"axis":{"values":[8.7,8.75,8.8,8.85],"labelExpr":"replace(format(datum.value,'.2f'),'.',',')","title":"Tempo [ms]"}},"y":{"field":"v","type":"quantitative","scale":{"domain":[-1.5,1.5],"nice":false,"zero":false},"axis":{"values":[-1,0,1],"labelExpr":"''+datum.value","title":"Amp. [V]"}}}},
 {"mark":{"type":"line","strokeOpacity":0},"encoding":{"x":{"field":"t","type":"quantitative","axis":{"orient":"top","values":[8.7,8.75,8.8,8.85],"labels":false,"title":"FE500 Filtrado MCA","titleFontSize":25,"titleFontWeight":"bold","titleBaseline":"alphabetic","titlePadding":18.5}},"y":{"field":"v","type":"quantitative","axis":{"orient":"right","values":[-1,0,1],"labels":false,"title":null}}}}],
 "resolve":{"axis":{"x":"independent","y":"independent"}}}
]
}
